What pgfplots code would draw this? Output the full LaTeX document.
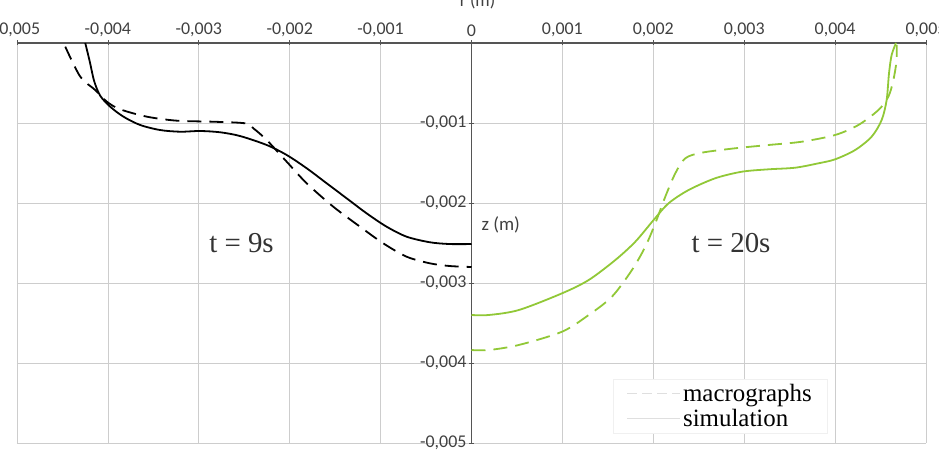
\documentclass[border=0pt]{standalone}
\usepackage{fontspec}
\setmainfont{Liberation Serif}
\newfontfamily\calib{Carlito}
\usepackage{pgfplots}
\pgfplotsset{compat=1.18}
\definecolor{lgreen}{RGB}{145,200,55}
\definecolor{axgray}{RGB}{85,85,85}
\definecolor{gridgray}{RGB}{205,205,205}
\begin{document}
\begin{tikzpicture}
\begin{axis}[
  scale only axis, width=909bp, height=400bp,
  xmin=-0.005, xmax=0.005, ymin=-0.005, ymax=0,
  axis x line=top, axis y line=middle,
  axis line style={draw=axgray, line width=1.3bp, -},
  xtick={-0.005,-0.004,-0.003,-0.002,-0.001,0,0.001,0.002,0.003,0.004,0.005},
  ytick={-0.005,-0.004,-0.003,-0.002,-0.001,0},
  scaled ticks=false,
  /pgf/number format/.cd, use comma, fixed, fixed zerofill=false, precision=3, assume math mode=true,
  /pgfplots/.cd,
  ticklabel style={font=\calib\fontsize{18}{21}\selectfont, text=black!75},
  xticklabel style={yshift=0bp},
  yticklabel style={xshift=1bp},
  tick style={draw=axgray, line width=0.8bp},
  major tick length=5bp,
  grid=major, grid style={draw=gridgray, line width=0.7bp},
  legend style={at={(0.891,0.025)}, anchor=south east, draw=gray!12, fill=white,
    font=\fontsize{25}{28}\selectfont, inner xsep=13bp, inner ysep=3bp, row sep=2bp},
  legend cell align=left,
  clip=false,
]
\addlegendimage{legend image code/.code={\draw[gray!25, line width=1.5bp, dash pattern=on 10bp off 5bp] (0bp,0bp) -- (53bp,0bp);}}
\addlegendentry{macrographs}
\addlegendimage{legend image code/.code={\draw[gray!25, line width=1.5bp] (0bp,0bp) -- (53bp,0bp);}}
\addlegendentry{simulation}

% t = 9s, simulation
\addplot[black, line width=1.8bp, smooth, forget plot] coordinates {
(-0.004249,0) (-0.004200,-0.000230) (-0.004150,-0.000480) (-0.004084,-0.000660)
(-0.003975,-0.000796) (-0.003829,-0.000921) (-0.003645,-0.001025) (-0.003425,-0.001088)
(-0.003205,-0.001109) (-0.002986,-0.001100) (-0.002766,-0.001116) (-0.002546,-0.001163)
(-0.002253,-0.001275) (-0.002033,-0.001400) (-0.001813,-0.001566) (-0.001593,-0.001754)
(-0.001374,-0.001941) (-0.001154,-0.002129) (-0.000934,-0.002296) (-0.000714,-0.002421)
(-0.000458,-0.002491) (-0.000238,-0.002513) (0,-0.002513)
};
% t = 9s, macrographs
\addplot[black, line width=1.8bp, dash pattern=on 14bp off 8bp, smooth, forget plot] coordinates {
(-0.004469,-0.000046) (-0.004304,-0.000421) (-0.004139,-0.000588) (-0.004011,-0.000734)
(-0.003865,-0.000829) (-0.003571,-0.000921) (-0.003242,-0.000971) (-0.002840,-0.000984)
(-0.002491,-0.001004) (-0.002400,-0.001066) (-0.002253,-0.001213) (-0.002033,-0.001484)
(-0.001813,-0.001754) (-0.001521,-0.002046) (-0.001227,-0.002296) (-0.000971,-0.002504)
(-0.000714,-0.002671) (-0.000458,-0.002754) (-0.000238,-0.002788) (0,-0.002800)
};
% t = 20s, simulation
\addplot[lgreen, line width=1.8bp, smooth, forget plot] coordinates {
(0,-0.003400) (0.000190,-0.003400) (0.000520,-0.003338) (0.000996,-0.003129)
(0.001289,-0.002963) (0.001582,-0.002713) (0.001802,-0.002484) (0.002003,-0.002213)
(0.002168,-0.002004) (0.002388,-0.001838) (0.002681,-0.001691) (0.002974,-0.001609)
(0.003267,-0.001579) (0.003560,-0.001559) (0.003816,-0.001504) (0.004000,-0.001454)
(0.004220,-0.001338) (0.004402,-0.001171) (0.004512,-0.000963) (0.004567,-0.000713)
(0.004593,-0.000379) (0.004622,-0.000150) (0.004670,0)
};
% t = 20s, macrographs
\addplot[lgreen, line width=1.8bp, dash pattern=on 14bp off 8bp, smooth, forget plot] coordinates {
(0,-0.003838) (0.000190,-0.003838) (0.000520,-0.003775) (0.000996,-0.003609)
(0.001289,-0.003400) (0.001545,-0.003171) (0.001765,-0.002838) (0.001912,-0.002546)
(0.002022,-0.002254) (0.002132,-0.001921) (0.002242,-0.001629) (0.002352,-0.001441)
(0.002534,-0.001371) (0.002901,-0.001316) (0.003267,-0.001275) (0.003633,-0.001234)
(0.004000,-0.001150) (0.004256,-0.001025) (0.004476,-0.000838) (0.004586,-0.000671)
(0.004641,-0.000463) (0.004677,-0.000213) (0.004677,-0.000025)
};

\node[font=\fontsize{29}{32}\selectfont, text=black!80] at (axis cs:-0.00253,-0.0025) {t = 9s};
\node[font=\fontsize{29}{32}\selectfont, text=black!80] at (axis cs:0.002855,-0.0025) {t = 20s};
\node[font=\calib\fontsize{19}{22}\selectfont, text=black!75] at (axis cs:0.000322,-0.002275) {z (m)};
\node[font=\calib\fontsize{18}{21}\selectfont, text=black!75] at ([xshift=6bp,yshift=42bp]axis cs:0,0) {r (m)};
\coordinate (bl) at (rel axis cs:0,0);
\coordinate (tr) at (rel axis cs:1,1);
\end{axis}
\pgfresetboundingbox
\path[use as bounding box] ([xshift=-17bp,yshift=-10bp]bl) rectangle ([xshift=13bp,yshift=43bp]tr);
\end{tikzpicture}
\end{document}
